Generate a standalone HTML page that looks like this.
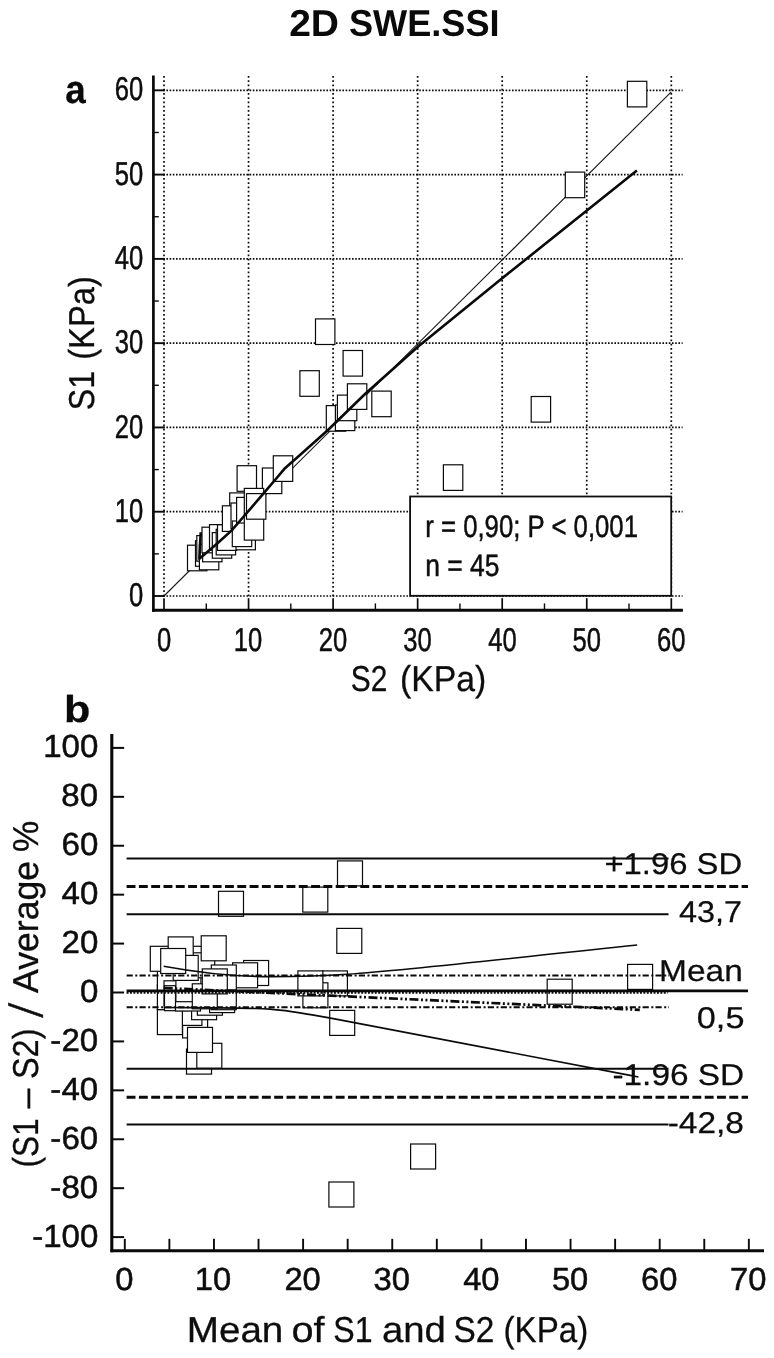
<!DOCTYPE html>
<html lang="en">
<head>
<meta charset="utf-8">
<title>2D SWE.SSI</title>
<style>
html,body{margin:0;padding:0;background:#fff;}
body{width:774px;height:1358px;overflow:hidden;}
svg{display:block;font-family:"Liberation Sans",sans-serif;}
</style>
</head>
<body>
<svg xmlns="http://www.w3.org/2000/svg" width="774" height="1358" viewBox="0 0 774 1358" text-rendering="geometricPrecision">
<rect x="0" y="0" width="774" height="1358" fill="#fff"/>
<text transform="translate(289.13,35.70) scale(1.0407,1)" font-size="37.5" font-weight="700" fill="#0a0a0a">2D</text>
<text transform="translate(348.95,35.70) scale(0.9643,1)" font-size="37.5" font-weight="700" fill="#0a0a0a">SWE.SSI</text>
<text transform="translate(65.23,103.20) scale(0.9314,1)" font-size="39.5" font-weight="700" stroke="#0a0a0a" stroke-width="0.3" fill="#0a0a0a">a</text>
<text transform="translate(64.10,722.20) scale(1.1497,1)" font-size="37.5" font-weight="700" stroke="#0a0a0a" stroke-width="0.3" fill="#0a0a0a">b</text>
<g stroke="#0a0a0a" fill="none">
<line x1="164.00" y1="75.9" x2="164.00" y2="597.0" stroke-width="1.7" stroke-dasharray="1.9 2.35"/>
<line x1="163.2" y1="596.00" x2="682.6" y2="596.00" stroke-width="1.7" stroke-dasharray="1.6 1.6"/>
<line x1="248.55" y1="75.9" x2="248.55" y2="597.0" stroke-width="1.7" stroke-dasharray="1.9 2.35"/>
<line x1="163.2" y1="511.72" x2="682.6" y2="511.72" stroke-width="1.7" stroke-dasharray="1.6 1.6"/>
<line x1="333.10" y1="75.9" x2="333.10" y2="597.0" stroke-width="1.7" stroke-dasharray="1.9 2.35"/>
<line x1="163.2" y1="427.44" x2="682.6" y2="427.44" stroke-width="1.7" stroke-dasharray="1.6 1.6"/>
<line x1="417.65" y1="75.9" x2="417.65" y2="597.0" stroke-width="1.7" stroke-dasharray="1.9 2.35"/>
<line x1="163.2" y1="343.16" x2="682.6" y2="343.16" stroke-width="1.7" stroke-dasharray="1.6 1.6"/>
<line x1="502.20" y1="75.9" x2="502.20" y2="597.0" stroke-width="1.7" stroke-dasharray="1.9 2.35"/>
<line x1="163.2" y1="258.88" x2="682.6" y2="258.88" stroke-width="1.7" stroke-dasharray="1.6 1.6"/>
<line x1="586.75" y1="75.9" x2="586.75" y2="597.0" stroke-width="1.7" stroke-dasharray="1.9 2.35"/>
<line x1="163.2" y1="174.60" x2="682.6" y2="174.60" stroke-width="1.7" stroke-dasharray="1.6 1.6"/>
<line x1="671.30" y1="75.9" x2="671.30" y2="597.0" stroke-width="1.7" stroke-dasharray="1.9 2.35"/>
<line x1="163.2" y1="90.32" x2="682.6" y2="90.32" stroke-width="1.7" stroke-dasharray="1.6 1.6"/>
</g>
<line x1="164.00" y1="596.00" x2="671.30" y2="91.82" stroke="#1a1a1a" stroke-width="1.1"/>
<g fill="#fff" stroke="#0a0a0a" stroke-width="1.2">
<rect x="627.4" y="81.3" width="19.4" height="25.6"/>
<rect x="565.3" y="172.1" width="19.4" height="25.6"/>
<rect x="531.2" y="396.5" width="19.4" height="25.6"/>
<rect x="443.4" y="464.8" width="19.4" height="25.6"/>
<rect x="315.5" y="318.9" width="19.4" height="25.6"/>
<rect x="343.1" y="350.5" width="19.4" height="25.6"/>
<rect x="299.9" y="370.7" width="19.4" height="25.6"/>
<rect x="326.3" y="405.6" width="19.4" height="25.6"/>
<rect x="335.4" y="405.0" width="19.4" height="25.6"/>
<rect x="337.4" y="395.1" width="19.4" height="25.6"/>
<rect x="347.4" y="383.8" width="19.4" height="25.6"/>
<rect x="371.8" y="391.1" width="19.4" height="25.6"/>
<rect x="262.4" y="468.0" width="19.4" height="25.6"/>
<rect x="273.3" y="455.8" width="19.4" height="25.6"/>
<rect x="237.1" y="465.7" width="19.4" height="25.6"/>
<rect x="187.5" y="545.2" width="19.4" height="25.6"/>
<rect x="195.5" y="540.7" width="19.4" height="25.6"/>
<rect x="196.8" y="535.6" width="19.4" height="25.6"/>
<rect x="199.4" y="544.2" width="19.4" height="25.6"/>
<rect x="202.6" y="536.2" width="19.4" height="25.6"/>
<rect x="202.0" y="527.2" width="19.4" height="25.6"/>
<rect x="209.5" y="524.6" width="19.4" height="25.6"/>
<rect x="212.3" y="532.6" width="19.4" height="25.6"/>
<rect x="216.2" y="529.3" width="19.4" height="25.6"/>
<rect x="217.5" y="524.8" width="19.4" height="25.6"/>
<rect x="229.7" y="492.9" width="19.4" height="25.6"/>
<rect x="222.4" y="505.8" width="19.4" height="25.6"/>
<rect x="231.0" y="503.0" width="19.4" height="25.6"/>
<rect x="236.0" y="524.2" width="19.4" height="25.6"/>
<rect x="232.3" y="521.0" width="19.4" height="25.6"/>
<rect x="236.6" y="497.4" width="19.4" height="25.6"/>
<rect x="244.3" y="514.5" width="19.4" height="25.6"/>
<rect x="244.3" y="488.4" width="19.4" height="25.6"/>
<rect x="246.5" y="493.6" width="19.4" height="25.6"/>
</g>
<polyline fill="none" stroke="#0a0a0a" stroke-width="2.6" stroke-linejoin="round" points="200.7,532.3 199.4,558.8 217.5,543.3 231.7,530.4 244.6,515.5 264,492.9 275,480 284.4,468.8 300,455 328,430 365.3,393.7 417.9,346.8 500,280 636.9,170.5"/>
<rect x="410.1" y="496.5" width="261.1" height="99.3" fill="#fff" stroke="#0d0d0d" stroke-width="1.8"/>
<g stroke="#0a0a0a" fill="none">
<line x1="153.4" y1="75.5" x2="153.4" y2="611.8" stroke-width="2.7"/>
<line x1="152.1" y1="610.3" x2="682.9" y2="610.3" stroke-width="3"/>
<line x1="153.4" y1="596.00" x2="164.6" y2="596.00" stroke-width="1.9"/>
<line x1="164.00" y1="598.2" x2="164.00" y2="610" stroke-width="1.7"/>
<line x1="153.4" y1="511.72" x2="164.6" y2="511.72" stroke-width="1.9"/>
<line x1="248.55" y1="598.2" x2="248.55" y2="610" stroke-width="1.7"/>
<line x1="153.4" y1="427.44" x2="164.6" y2="427.44" stroke-width="1.9"/>
<line x1="333.10" y1="598.2" x2="333.10" y2="610" stroke-width="1.7"/>
<line x1="153.4" y1="343.16" x2="164.6" y2="343.16" stroke-width="1.9"/>
<line x1="417.65" y1="598.2" x2="417.65" y2="610" stroke-width="1.7"/>
<line x1="153.4" y1="258.88" x2="164.6" y2="258.88" stroke-width="1.9"/>
<line x1="502.20" y1="598.2" x2="502.20" y2="610" stroke-width="1.7"/>
<line x1="153.4" y1="174.60" x2="164.6" y2="174.60" stroke-width="1.9"/>
<line x1="586.75" y1="598.2" x2="586.75" y2="610" stroke-width="1.7"/>
<line x1="153.4" y1="90.32" x2="164.6" y2="90.32" stroke-width="1.9"/>
<line x1="671.30" y1="598.2" x2="671.30" y2="610" stroke-width="1.7"/>
<line x1="153.4" y1="553.86" x2="158.8" y2="553.86" stroke-width="1.4"/>
<line x1="206.28" y1="603.4" x2="206.28" y2="610" stroke-width="1.4"/>
<line x1="153.4" y1="469.58" x2="158.8" y2="469.58" stroke-width="1.4"/>
<line x1="290.82" y1="603.4" x2="290.82" y2="610" stroke-width="1.4"/>
<line x1="153.4" y1="385.30" x2="158.8" y2="385.30" stroke-width="1.4"/>
<line x1="375.38" y1="603.4" x2="375.38" y2="610" stroke-width="1.4"/>
<line x1="153.4" y1="301.02" x2="158.8" y2="301.02" stroke-width="1.4"/>
<line x1="459.93" y1="603.4" x2="459.93" y2="610" stroke-width="1.4"/>
<line x1="153.4" y1="216.74" x2="158.8" y2="216.74" stroke-width="1.4"/>
<line x1="544.48" y1="603.4" x2="544.48" y2="610" stroke-width="1.4"/>
<line x1="153.4" y1="132.46" x2="158.8" y2="132.46" stroke-width="1.4"/>
<line x1="629.02" y1="603.4" x2="629.02" y2="610" stroke-width="1.4"/>
</g>
<text transform="translate(129.11,606.10) scale(0.7758,1)" font-size="33" stroke="#0d0d0d" stroke-width="0.5" fill="#0d0d0d">0</text>
<text transform="translate(156.89,650.50) scale(0.7758,1)" font-size="33" stroke="#0d0d0d" stroke-width="0.5" fill="#0d0d0d">0</text>
<text transform="translate(114.86,521.82) scale(0.7758,1)" font-size="33" stroke="#0d0d0d" stroke-width="0.5" fill="#0d0d0d">10</text>
<text transform="translate(233.83,650.50) scale(0.7758,1)" font-size="33" stroke="#0d0d0d" stroke-width="0.5" fill="#0d0d0d">10</text>
<text transform="translate(114.86,437.54) scale(0.7758,1)" font-size="33" stroke="#0d0d0d" stroke-width="0.5" fill="#0d0d0d">20</text>
<text transform="translate(318.73,650.50) scale(0.7758,1)" font-size="33" stroke="#0d0d0d" stroke-width="0.5" fill="#0d0d0d">20</text>
<text transform="translate(114.86,353.26) scale(0.7758,1)" font-size="33" stroke="#0d0d0d" stroke-width="0.5" fill="#0d0d0d">30</text>
<text transform="translate(403.30,650.50) scale(0.7758,1)" font-size="33" stroke="#0d0d0d" stroke-width="0.5" fill="#0d0d0d">30</text>
<text transform="translate(114.86,268.98) scale(0.7758,1)" font-size="33" stroke="#0d0d0d" stroke-width="0.5" fill="#0d0d0d">40</text>
<text transform="translate(488.19,650.50) scale(0.7758,1)" font-size="33" stroke="#0d0d0d" stroke-width="0.5" fill="#0d0d0d">40</text>
<text transform="translate(114.86,184.70) scale(0.7758,1)" font-size="33" stroke="#0d0d0d" stroke-width="0.5" fill="#0d0d0d">50</text>
<text transform="translate(572.43,650.50) scale(0.7758,1)" font-size="33" stroke="#0d0d0d" stroke-width="0.5" fill="#0d0d0d">50</text>
<text transform="translate(114.86,100.42) scale(0.7758,1)" font-size="33" stroke="#0d0d0d" stroke-width="0.5" fill="#0d0d0d">60</text>
<text transform="translate(656.91,650.50) scale(0.7758,1)" font-size="33" stroke="#0d0d0d" stroke-width="0.5" fill="#0d0d0d">60</text>
<text transform="translate(93.60,410.26) rotate(-90) scale(0.8917,1)" font-size="36" stroke="#0d0d0d" stroke-width="0.3" fill="#0d0d0d">S1</text>
<text transform="translate(93.60,359.86) rotate(-90) scale(0.9097,1)" font-size="36" stroke="#0d0d0d" stroke-width="0.3" fill="#0d0d0d">(KPa)</text>
<text transform="translate(350.75,690.50) scale(0.8308,1)" font-size="36" stroke="#0d0d0d" stroke-width="0.3" fill="#0d0d0d">S2</text>
<text transform="translate(400.08,690.50) scale(0.9372,1)" font-size="36" stroke="#0d0d0d" stroke-width="0.3" fill="#0d0d0d">(KPa)</text>
<text transform="translate(425.26,537.00) scale(0.8301,1)" font-size="31" stroke="#0d0d0d" stroke-width="0.5" fill="#0d0d0d">r = 0,90; P &lt; 0,001</text>
<text transform="translate(425.21,575.50) scale(0.8532,1)" font-size="31" stroke="#0d0d0d" stroke-width="0.5" fill="#0d0d0d">n = 45</text>
<g fill="#fff" stroke="#0a0a0a" stroke-width="1.2">
<rect x="336.8" y="928.4" width="25" height="25"/>
<rect x="328.9" y="1182.0" width="25" height="25"/>
<rect x="410.6" y="1144.0" width="25" height="25"/>
<rect x="627.6" y="964.4" width="25" height="25"/>
<rect x="547.2" y="979.2" width="25" height="25"/>
<rect x="218.5" y="891.3" width="25" height="25"/>
<rect x="302.8" y="887.1" width="25" height="25"/>
<rect x="337.5" y="860.9" width="25" height="25"/>
<rect x="329.7" y="1010.4" width="25" height="25"/>
<rect x="322.4" y="970.9" width="25" height="25"/>
<rect x="302.9" y="982.8" width="25" height="25"/>
<rect x="297.9" y="970.9" width="25" height="25"/>
<rect x="186.5" y="1049.1" width="25" height="25"/>
<rect x="196.8" y="1043.3" width="25" height="25"/>
<rect x="182.6" y="1012.9" width="25" height="25"/>
<rect x="187.5" y="1027.4" width="25" height="25"/>
<rect x="176.9" y="1000.4" width="25" height="25"/>
<rect x="157.4" y="1009.6" width="25" height="25"/>
<rect x="191.6" y="994.7" width="25" height="25"/>
<rect x="197.4" y="990.2" width="25" height="25"/>
<rect x="209.6" y="987.6" width="25" height="25"/>
<rect x="211.3" y="984.7" width="25" height="25"/>
<rect x="163.3" y="973.0" width="25" height="25"/>
<rect x="157.4" y="984.6" width="25" height="25"/>
<rect x="157.4" y="965.7" width="25" height="25"/>
<rect x="164.0" y="980.8" width="25" height="25"/>
<rect x="164.5" y="985.7" width="25" height="25"/>
<rect x="175.5" y="986.0" width="25" height="25"/>
<rect x="175.9" y="976.7" width="25" height="25"/>
<rect x="192.3" y="983.8" width="25" height="25"/>
<rect x="185.2" y="946.3" width="25" height="25"/>
<rect x="189.7" y="952.8" width="25" height="25"/>
<rect x="150.3" y="946.3" width="25" height="25"/>
<rect x="168.2" y="936.9" width="25" height="25"/>
<rect x="173.2" y="955.4" width="25" height="25"/>
<rect x="160.7" y="948.5" width="25" height="25"/>
<rect x="243.6" y="960.5" width="25" height="25"/>
<rect x="232.6" y="962.8" width="25" height="25"/>
<rect x="211.3" y="965.0" width="25" height="25"/>
<rect x="202.3" y="968.9" width="25" height="25"/>
<rect x="201.2" y="935.8" width="25" height="25"/>
</g>
<g stroke="#0a0a0a" fill="none">
<line x1="126.6" y1="858.4" x2="668.5" y2="858.4" stroke-width="2.0"/>
<line x1="126.6" y1="914.2" x2="668.5" y2="914.2" stroke-width="2.0"/>
<line x1="126.6" y1="1068.7" x2="668.5" y2="1068.7" stroke-width="2.0"/>
<line x1="126.6" y1="1124.6" x2="668.5" y2="1124.6" stroke-width="2.0"/>
<line x1="126.6" y1="886.6" x2="748" y2="886.6" stroke-width="3.0" stroke-dasharray="8.9 3.4"/>
<line x1="126.6" y1="1097.2" x2="748" y2="1097.2" stroke-width="3.0" stroke-dasharray="8.9 3.4"/>
<line x1="126.6" y1="975.5" x2="669" y2="975.5" stroke-width="1.9" stroke-dasharray="6.2 2.5 2 2.2"/>
<line x1="126.6" y1="1007.3" x2="669" y2="1007.3" stroke-width="1.9" stroke-dasharray="6.2 2.5 2 2.2"/>
<line x1="126.6" y1="992.9" x2="667.8" y2="992.9" stroke-width="1.9" stroke-dasharray="1.9 1.5"/>
<line x1="126.6" y1="990.8" x2="748" y2="990.8" stroke-width="2.7"/>
<line x1="163.7" y1="988.0" x2="639.8" y2="1009.8" stroke-width="2.7" stroke-dasharray="9 2.5 2 2.5 2 2.5"/>
<path d="M163.7,966.2 C195,972 235,976.6 270,976.6 C300,976.6 330,975.5 347.5,974.3 C420,969 520,957 637.2,945" stroke-width="1.6"/>
<path d="M163.7,1007.5 C200,1007.8 240,1007.5 270,1009.1 C290,1010.5 310,1014.5 332,1018.4 C400,1031 520,1054 638.5,1077" stroke-width="1.6"/>
</g>
<g stroke="#0a0a0a" fill="none">
<line x1="111.8" y1="733.9" x2="111.8" y2="1252.3" stroke-width="3.1"/>
<line x1="110.5" y1="1250.8" x2="764" y2="1250.8" stroke-width="3"/>
<line x1="112" y1="1237.10" x2="124.1" y2="1237.10" stroke-width="2.0"/>
<line x1="112" y1="1188.18" x2="124.1" y2="1188.18" stroke-width="2.0"/>
<line x1="112" y1="1139.26" x2="124.1" y2="1139.26" stroke-width="2.0"/>
<line x1="112" y1="1090.34" x2="124.1" y2="1090.34" stroke-width="2.0"/>
<line x1="112" y1="1041.42" x2="124.1" y2="1041.42" stroke-width="2.0"/>
<line x1="112" y1="992.50" x2="124.1" y2="992.50" stroke-width="2.0"/>
<line x1="112" y1="943.58" x2="124.1" y2="943.58" stroke-width="2.0"/>
<line x1="112" y1="894.66" x2="124.1" y2="894.66" stroke-width="2.0"/>
<line x1="112" y1="845.74" x2="124.1" y2="845.74" stroke-width="2.0"/>
<line x1="112" y1="796.82" x2="124.1" y2="796.82" stroke-width="2.0"/>
<line x1="112" y1="747.90" x2="124.1" y2="747.90" stroke-width="2.0"/>
<line x1="124.80" y1="1238.8" x2="124.80" y2="1250.8" stroke-width="1.9"/>
<line x1="169.38" y1="1238.8" x2="169.38" y2="1250.8" stroke-width="1.9"/>
<line x1="213.95" y1="1238.8" x2="213.95" y2="1250.8" stroke-width="1.9"/>
<line x1="258.52" y1="1238.8" x2="258.52" y2="1250.8" stroke-width="1.9"/>
<line x1="303.10" y1="1238.8" x2="303.10" y2="1250.8" stroke-width="1.9"/>
<line x1="347.67" y1="1238.8" x2="347.67" y2="1250.8" stroke-width="1.9"/>
<line x1="392.25" y1="1238.8" x2="392.25" y2="1250.8" stroke-width="1.9"/>
<line x1="436.82" y1="1238.8" x2="436.82" y2="1250.8" stroke-width="1.9"/>
<line x1="481.40" y1="1238.8" x2="481.40" y2="1250.8" stroke-width="1.9"/>
<line x1="525.97" y1="1238.8" x2="525.97" y2="1250.8" stroke-width="1.9"/>
<line x1="570.55" y1="1238.8" x2="570.55" y2="1250.8" stroke-width="1.9"/>
<line x1="615.12" y1="1238.8" x2="615.12" y2="1250.8" stroke-width="1.9"/>
<line x1="659.70" y1="1238.8" x2="659.70" y2="1250.8" stroke-width="1.9"/>
<line x1="704.27" y1="1238.8" x2="704.27" y2="1250.8" stroke-width="1.9"/>
<line x1="748.85" y1="1238.8" x2="748.85" y2="1250.8" stroke-width="1.9"/>
</g>
<text transform="translate(32.13,1246.60) scale(1.0336,1)" font-size="32" stroke="#0d0d0d" stroke-width="0.5" fill="#0d0d0d">-100</text>
<text transform="translate(50.37,1197.68) scale(1.0336,1)" font-size="32" stroke="#0d0d0d" stroke-width="0.5" fill="#0d0d0d">-80</text>
<text transform="translate(50.37,1148.76) scale(1.0336,1)" font-size="32" stroke="#0d0d0d" stroke-width="0.5" fill="#0d0d0d">-60</text>
<text transform="translate(50.37,1099.84) scale(1.0336,1)" font-size="32" stroke="#0d0d0d" stroke-width="0.5" fill="#0d0d0d">-40</text>
<text transform="translate(50.37,1050.92) scale(1.0336,1)" font-size="32" stroke="#0d0d0d" stroke-width="0.5" fill="#0d0d0d">-20</text>
<text transform="translate(79.88,1002.00) scale(1.0336,1)" font-size="32" stroke="#0d0d0d" stroke-width="0.5" fill="#0d0d0d">0</text>
<text transform="translate(61.56,953.08) scale(1.0336,1)" font-size="32" stroke="#0d0d0d" stroke-width="0.5" fill="#0d0d0d">20</text>
<text transform="translate(61.56,904.16) scale(1.0336,1)" font-size="32" stroke="#0d0d0d" stroke-width="0.5" fill="#0d0d0d">40</text>
<text transform="translate(61.56,855.24) scale(1.0336,1)" font-size="32" stroke="#0d0d0d" stroke-width="0.5" fill="#0d0d0d">60</text>
<text transform="translate(61.37,806.32) scale(1.0336,1)" font-size="32" stroke="#0d0d0d" stroke-width="0.5" fill="#0d0d0d">80</text>
<text transform="translate(43.13,757.40) scale(1.0336,1)" font-size="32" stroke="#0d0d0d" stroke-width="0.5" fill="#0d0d0d">100</text>
<text transform="translate(115.31,1290.00) scale(1.0237,1)" font-size="32" stroke="#0d0d0d" stroke-width="0.5" fill="#0d0d0d">0</text>
<text transform="translate(194.80,1290.00) scale(1.0238,1)" font-size="32" stroke="#0d0d0d" stroke-width="0.5" fill="#0d0d0d">10</text>
<text transform="translate(284.38,1290.00) scale(1.0237,1)" font-size="32" stroke="#0d0d0d" stroke-width="0.5" fill="#0d0d0d">20</text>
<text transform="translate(373.59,1290.00) scale(1.0238,1)" font-size="32" stroke="#0d0d0d" stroke-width="0.5" fill="#0d0d0d">30</text>
<text transform="translate(463.13,1290.00) scale(1.0238,1)" font-size="32" stroke="#0d0d0d" stroke-width="0.5" fill="#0d0d0d">40</text>
<text transform="translate(551.89,1290.00) scale(1.0238,1)" font-size="32" stroke="#0d0d0d" stroke-width="0.5" fill="#0d0d0d">50</text>
<text transform="translate(640.95,1290.00) scale(1.0238,1)" font-size="32" stroke="#0d0d0d" stroke-width="0.5" fill="#0d0d0d">60</text>
<text transform="translate(730.11,1290.00) scale(1.0238,1)" font-size="32" stroke="#0d0d0d" stroke-width="0.5" fill="#0d0d0d">70</text>
<text transform="translate(604.39,874.20) scale(1.0936,1)" font-size="30" stroke="#0d0d0d" stroke-width="0.25" fill="#0d0d0d">+1.96 SD</text>
<text transform="translate(679.06,921.50) scale(1.0802,1)" font-size="30" stroke="#0d0d0d" stroke-width="0.25" fill="#0d0d0d">43,7</text>
<text transform="translate(659.05,980.80) scale(1.1153,1)" font-size="30" stroke="#0d0d0d" stroke-width="0.25" fill="#0d0d0d">Mean</text>
<text transform="translate(696.82,1028.40) scale(1.1419,1)" font-size="30" stroke="#0d0d0d" stroke-width="0.25" fill="#0d0d0d">0,5</text>
<text transform="translate(612.41,1085.30) scale(1.1132,1)" font-size="30" stroke="#0d0d0d" stroke-width="0.25" fill="#0d0d0d">-1.96 SD</text>
<text transform="translate(667.71,1132.80) scale(1.1150,1)" font-size="30" stroke="#0d0d0d" stroke-width="0.25" fill="#0d0d0d">-42,8</text>
<text transform="translate(37.60,1167.60) rotate(-90) scale(0.8766,1)" font-size="36" stroke="#0d0d0d" stroke-width="0.3" fill="#0d0d0d">(S1</text>
<text transform="translate(37.60,1108.20) rotate(-90) scale(0.9804,1)" font-size="36" stroke="#0d0d0d" stroke-width="0.3" fill="#0d0d0d">–</text>
<text transform="translate(37.60,1079.08) rotate(-90) scale(0.9022,1)" font-size="36" stroke="#0d0d0d" stroke-width="0.3" fill="#0d0d0d">S2)</text>
<text transform="translate(37.60,992.88) rotate(-90) scale(0.9894,1)" font-size="36" stroke="#0d0d0d" stroke-width="0.3" fill="#0d0d0d">Average</text>
<text transform="translate(37.60,851.91) rotate(-90) scale(0.9790,1)" font-size="36" stroke="#0d0d0d" stroke-width="0.3" fill="#0d0d0d">%</text>
<text transform="translate(39.00,1018.30) rotate(-90) scale(1.1296,1)" font-size="42" stroke="#0d0d0d" stroke-width="0.55" font-family="DejaVu Sans, sans-serif" font-weight="200" fill="#0d0d0d">/</text>
<text transform="translate(186.71,1342.10) scale(1.0731,1)" font-size="36" stroke="#0d0d0d" stroke-width="0.3" fill="#0d0d0d">Mean</text>
<text transform="translate(291.39,1342.10) scale(1.1001,1)" font-size="36" stroke="#0d0d0d" stroke-width="0.3" fill="#0d0d0d">of</text>
<text transform="translate(333.24,1342.10) scale(0.8917,1)" font-size="36" stroke="#0d0d0d" stroke-width="0.3" fill="#0d0d0d">S1</text>
<text transform="translate(381.90,1342.10) scale(1.0645,1)" font-size="36" stroke="#0d0d0d" stroke-width="0.3" fill="#0d0d0d">and</text>
<text transform="translate(453.57,1342.10) scale(0.9272,1)" font-size="36" stroke="#0d0d0d" stroke-width="0.3" fill="#0d0d0d">S2</text>
<text transform="translate(503.52,1342.10) scale(0.9200,1)" font-size="36" stroke="#0d0d0d" stroke-width="0.3" fill="#0d0d0d">(KPa)</text>
</svg>
</body>
</html>
